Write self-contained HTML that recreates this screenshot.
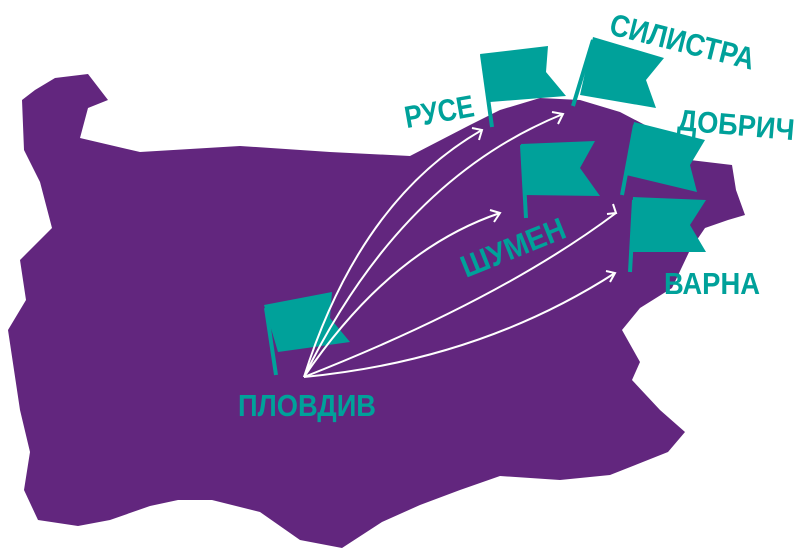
<!DOCTYPE html>
<html><head><meta charset="utf-8"><style>
html,body{margin:0;padding:0;background:#fff;width:806px;height:550px;overflow:hidden}
text{font-family:"Liberation Sans",sans-serif;font-weight:bold;fill:#00a19a}
</style></head><body>
<svg width="806" height="550" viewBox="0 0 806 550">
<path fill="#62267e" d="M22,100 L35,90 L55,78 L88,74 L108,100 L88,108 L80,138 L140,152 L240,146 L330,152 L410,156 L470,125 L500,110 L540,98 L580,100 L620,112 L645,125 L690,160 L732,165 L736,190 L745,215 L728,220 L705,228 L690,250 L672,288 L640,308 L622,330 L640,362 L632,380 L660,410 L685,432 L668,452 L610,475 L560,480 L500,476 L460,490 L420,505 L382,522 L342,548 L300,540 L260,512 L212,500 L178,500 L150,506 L110,520 L78,526 L38,520 L24,490 L30,452 L20,410 L8,330 L26,300 L20,260 L52,228 L40,182 L24,150 Z"/>
<g fill="#00a19a" stroke="#00a19a">
<line x1="276" y1="375" x2="266" y2="308" stroke-width="4"/>
<polygon stroke="none" points="264,305 332,292 330,318 350,342 278,352"/>
<line x1="492" y1="127" x2="482" y2="55" stroke-width="4"/>
<polygon stroke="none" points="480,54 548,46 546,72 566,96 490,102"/>
<line x1="573" y1="106" x2="593" y2="40" stroke-width="4"/>
<polygon stroke="none" points="593,37 664,58 646,80 656,108 580,95"/>
<line x1="526" y1="218" x2="522" y2="145" stroke-width="4"/>
<polygon stroke="none" points="521,144 595,141 580,168 600,196 524,195"/>
<line x1="622" y1="195" x2="635" y2="125" stroke-width="4"/>
<polygon stroke="none" points="634,122 705,140 690,165 697,192 626,175"/>
<line x1="630" y1="272" x2="634" y2="200" stroke-width="4"/>
<polygon stroke="none" points="633,197 706,200 690,225 706,252 630,252"/>
</g>
<g fill="none" stroke="#fff" stroke-width="2">
<path d="M304,377 Q360,200 482,130"/>
<path d="M304,377 Q400,180 563,114"/>
<path d="M304,377 Q390,250 500,213"/>
<path d="M304,377 Q500,300 616,213"/>
<path d="M304,377 Q480,360 615,273"/>
<path d="M472,128 L482,130 L479,140"/>
<path d="M552,112 L563,114 L558,124"/>
<path d="M490,210 L500,213 L494,222"/>
<path d="M613,204 L616,213 L607,214"/>
<path d="M606,271 L615,273 L610,282"/>
</g>
<text x="404" y="122" font-size="31" textLength="70" lengthAdjust="spacingAndGlyphs" transform="rotate(-10 440 110)">РУСЕ</text>
<text x="608" y="34" font-size="31" textLength="148" lengthAdjust="spacingAndGlyphs" transform="rotate(14 608 34)">СИЛИСТРА</text>
<text x="677" y="130" font-size="30" textLength="117" lengthAdjust="spacingAndGlyphs" transform="rotate(5 677 130)">ДОБРИЧ</text>
<text x="466" y="278" font-size="31" textLength="110" lengthAdjust="spacingAndGlyphs" transform="rotate(-22 466 278)">ШУМЕН</text>
<text x="664" y="294" font-size="31" textLength="96" lengthAdjust="spacingAndGlyphs">ВАРНА</text>
<text x="238" y="416" font-size="31" textLength="138" lengthAdjust="spacingAndGlyphs">ПЛОВДИВ</text>
</svg>
</body></html>
